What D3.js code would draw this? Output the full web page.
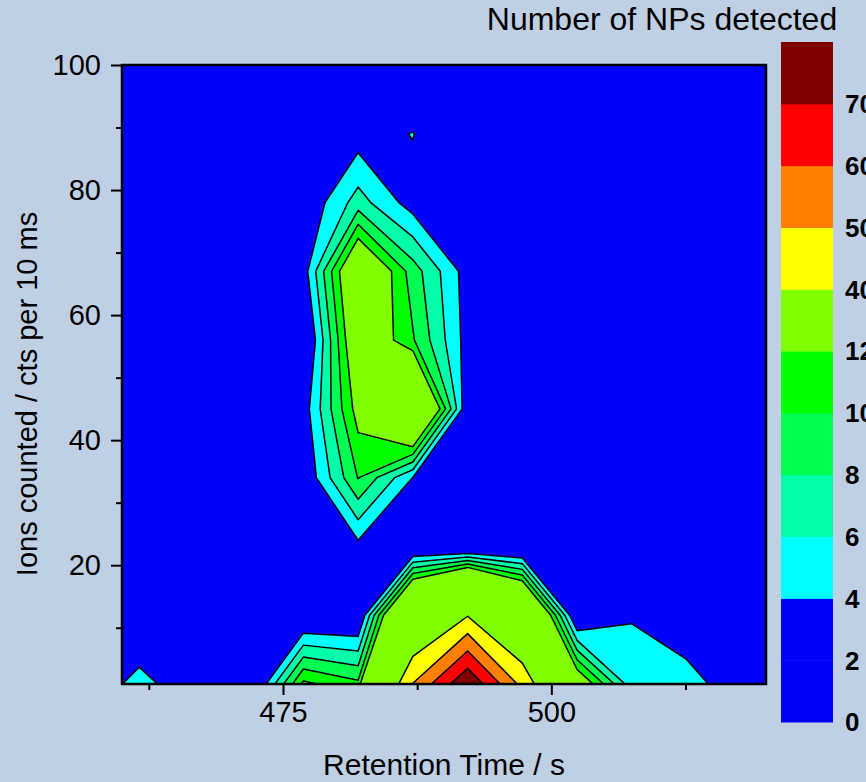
<!DOCTYPE html>
<html><head><meta charset="utf-8">
<script src="https://cdn.jsdelivr.net/npm/d3@7"></script>
<style>
html,body{margin:0;padding:0;background:#bfd0e4;overflow:hidden;}
svg{display:block;}
text{font-family:"Liberation Sans", Arial, sans-serif;}
</style></head><body>
<svg id="chart" width="866" height="782"></svg>
<script>
// ---- data (grid of measured counts) ----
const retentionTimes = [456.5, 461.6, 466.7, 471.8, 476.9, 482.0, 487.1, 492.2, 497.3, 502.4, 507.5, 512.6, 517.7, 522.8];
const ionCounts = [1, 12, 23, 34, 45, 56, 67, 78, 89, 100];
// one row per ion-count level (bottom to top), one value per retention time
const row1   = [1, 5.3, 1.4, 0, 12.5, 10.5, 50.3, 79, 47, 15, 4.7, 5.5, 1.7, 0];
const row12  = [0, 0, 0, 0, 1, 1.1, 24.6, 39.4, 24, 0.8, 3.9, 1.3, 0, 0];
const row23  = [0, 0, 0, 0, 0, 3.4, 0.5, 0, 0, 0, 0, 0, 0, 0];
const row34  = [0, 0, 0, 0, 2.1, 10.1, 3.95, 0, 0, 0, 0, 0, 0, 0];
const row45  = [0, 0, 0, 0, 2.9, 13, 21.8, 2, 0, 0, 0, 0, 0, 0];
const row56  = [0, 0, 0, 0, 0.8, 15.3, 10.2, 3.1, 0, 0, 0, 0, 0, 0];
const row67  = [0, 0, 0, 0, 2.9, 16.7, 9, 3.0, 0, 0, 0, 0, 0, 0];
const row78  = [0, 0, 0, 0, 2.1, 6.9, 3.0, 0, 0, 0, 0, 0, 0, 0];
const row89  = [0, 0, 0, 0, 0, 2.9, 4.1, 0, 0, 0, 0, 0, 0, 0];
const row100 = [0, 0, 0, 0, 0, 0, 0, 0, 0, 0, 0, 0, 0, 0];
const npCounts = [row1, row12, row23, row34, row45, row56, row67, row78, row89, row100];

const levels = [0, 2, 4, 6, 8, 10, 12, 40, 50, 60, 70];
const levelColors = ["#0000ff","#0000ff","#00ffff","#00ffa8","#00ff50","#00ff00","#80ff00","#ffff00","#ff8000","#ff0000","#800000"];
const xTicks = [475, 500];
const xMinorTicks = [462.5, 487.5, 512.5];
const yTicks = [20, 40, 60, 80, 100];
const yMinorTicks = [10, 30, 50, 70, 90];

// ---- layout ----
const svg = d3.select("#chart");
const L = 122, R = 766, T = 65, B = 684;
const x = d3.scaleLinear().domain([460, 520]).range([L, R]);
const y = d3.scaleLinear().domain([1, 100]).range([B, T]);

svg.append("defs").append("clipPath").attr("id","clip")
  .append("rect").attr("x", L).attr("y", T).attr("width", R-L).attr("height", B-T);

const plot = svg.append("g").attr("clip-path","url(#clip)");
plot.append("rect").attr("x", L).attr("y", T).attr("width", R-L).attr("height", B-T).attr("fill", levelColors[0]);

const nx = retentionTimes.length, ny = ionCounts.length;
const flat = npCounts.flat();
const contourLevels = levels.slice(2);
const contours = d3.contours().size([nx, ny]).thresholds(contourLevels)(flat);
const gx = d3.scaleLinear().domain([0.5, nx-0.5]).range([retentionTimes[0], retentionTimes[nx-1]]);
const gy = d3.scaleLinear().domain([0.5, ny-0.5]).range([ionCounts[0], ionCounts[ny-1]]);
const proj = d3.geoTransform({point(px, py){ this.stream.point(x(gx(px)), y(gy(py))); }});
const path = d3.geoPath(proj);

plot.selectAll("path.band").data(contours).join("path")
  .attr("class","band")
  .attr("d", path)
  .attr("fill", d => levelColors[levels.indexOf(d.value)])
  .attr("stroke", "#000")
  .attr("stroke-width", 1.5)
  .attr("stroke-linejoin", "round");

// frame
svg.append("rect").attr("x", L).attr("y", T).attr("width", R-L).attr("height", B-T)
  .attr("fill","none").attr("stroke","#000").attr("stroke-width", 2.5);

// axes
const fs = 29;
const gxA = svg.append("g").attr("transform", `translate(0,${B})`)
  .call(d3.axisBottom(x).tickValues(xTicks).tickSize(11).tickSizeOuter(0).tickPadding(6));
const gxm = svg.append("g").attr("transform", `translate(0,${B})`)
  .call(d3.axisBottom(x).tickValues(xMinorTicks).tickSize(6).tickSizeOuter(0).tickFormat(""));
const gyA = svg.append("g").attr("transform", `translate(${L},0)`)
  .call(d3.axisLeft(y).tickValues(yTicks).tickSize(11).tickSizeOuter(0).tickPadding(10));
const gym = svg.append("g").attr("transform", `translate(${L},0)`)
  .call(d3.axisLeft(y).tickValues(yMinorTicks).tickSize(6).tickSizeOuter(0).tickFormat(""));
[gxA, gxm, gyA, gym].forEach(g => {
  g.select(".domain").remove();
  g.selectAll(".tick line").attr("stroke","#000").attr("stroke-width", 2);
  g.selectAll(".tick text").attr("font-size", fs).attr("fill","#000")
    .attr("font-family","Liberation Sans, Arial, sans-serif");
});

// axis titles
svg.append("text").attr("x", 444).attr("y", 775).attr("text-anchor","middle")
  .attr("font-size", 30).text("Retention Time / s");
svg.append("text").attr("transform", `translate(37,394) rotate(-90)`).attr("text-anchor","middle")
  .attr("font-size", 29).text("Ions counted / cts per 10 ms");
svg.append("text").attr("x", 662).attr("y", 30).attr("text-anchor","middle")
  .attr("font-size", 32).text("Number of NPs detected");

// colour bar
const cb = d3.scaleLinear().domain([0, levels.length]).range([722, 42]);
const cbg = svg.append("g");
cbg.selectAll("rect").data(levels).join("rect")
  .attr("x", 781).attr("width", 52)
  .attr("y", (d,i) => cb(i+1)).attr("height", (d,i) => cb(i) - cb(i+1) + 0.5)
  .attr("fill", (d,i) => levelColors[i]);
cbg.selectAll("text").data(levels).join("text")
  .attr("x", 845).attr("y", (d,i) => cb(i)).attr("dy", "0.36em")
  .attr("font-size", 26).attr("font-weight","bold").text(d => d);
</script>
</body></html>
